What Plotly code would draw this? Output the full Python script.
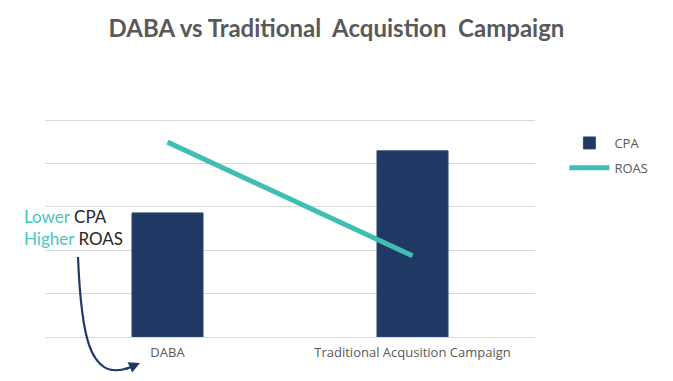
import plotly.graph_objects as go

categories = ["DABA", "Traditional Acqusition Campaign"]
cpa_values = [28.6, 42.9]
roas_values = [44.9, 18.7]

W, H = 673, 381
L, R, T, B = 45, 138, 110, 44
PW, PH = W - L - R, H - T - B
YTOP = 50 * PH / 217.0   # gridline at 50 sits at pixel 120

def px(x):
    return (x - L) / PW

def py(y):
    return (H - B - y) / PH

NAVY = "#1F3864"
TEAL = "#3FBFB3"
GREY = "#595959"

fig = go.Figure()
fig.add_trace(go.Bar(
    x=categories, y=cpa_values, name="CPA", width=0.29, legendgroup="a",
    marker=dict(color=NAVY, line=dict(color="#2E4E7A", width=1)),
))
fig.add_trace(go.Scatter(
    x=categories, y=roas_values, name="ROAS", mode="lines", legendgroup="b",
    line=dict(color=TEAL, width=5),
))

# curved arrow annotation (decoration)
path = "M {:.4f},{:.4f} C {:.4f},{:.4f} {:.4f},{:.4f} {:.4f},{:.4f}".format(
    px(78), py(257), px(81), py(330), px(88), py(382), px(128), py(368))
fig.add_shape(type="path", path=path, xref="paper", yref="paper",
              line=dict(color=NAVY, width=2.2))
fig.add_annotation(xref="paper", yref="paper", x=px(140), y=py(363),
                   ax=-16, ay=7, text="", showarrow=True, arrowhead=2,
                   arrowsize=1, arrowwidth=2.2, arrowcolor=NAVY)

fig.add_annotation(xref="paper", yref="paper", x=px(22), y=py(216),
                   xanchor="left", yanchor="middle", showarrow=False,
                   text="<span style='color:#4CC5BD'>Lower</span> CPA",
                   font=dict(family="Lato", size=17, color="#262626"))
fig.add_annotation(xref="paper", yref="paper", x=px(22), y=py(238),
                   xanchor="left", yanchor="middle", showarrow=False,
                   text="<span style='color:#4CC5BD'>Higher</span> ROAS",
                   font=dict(family="Lato", size=17, color="#262626"))

fig.update_layout(
    width=W, height=H,
    margin=dict(l=L, r=R, t=T, b=B),
    paper_bgcolor="white", plot_bgcolor="white",
    title=dict(text="<b>DABA vs Traditional  Acquistion  Campaign</b>",
               x=0.5, xanchor="center", y=1 - 29 / H, yanchor="middle",
               font=dict(family="Lato", size=24, color=GREY)),
    showlegend=True,
    legend=dict(x=1.06, y=py(128), xanchor="left", yanchor="top",
                font=dict(family="Open Sans", size=13, color=GREY),
                itemwidth=40, tracegroupgap=5, bgcolor="rgba(0,0,0,0)"),
    bargap=0.71,
)
fig.update_xaxes(showgrid=False, showline=False, ticks="",
                 tickfont=dict(family="Open Sans", size=13, color=GREY),
                 ticklabelstandoff=6)
fig.update_yaxes(range=[0, YTOP], dtick=10, showticklabels=False,
                 showgrid=True, gridcolor="#D9D9D9", gridwidth=1,
                 zeroline=True, zerolinecolor="#D9D9D9", zerolinewidth=1,
                 showline=False)

fig.write_html("out.html", config={"displayModeBar": False},
               post_script="document.body.style.margin='0';document.body.style.overflow='hidden';")
